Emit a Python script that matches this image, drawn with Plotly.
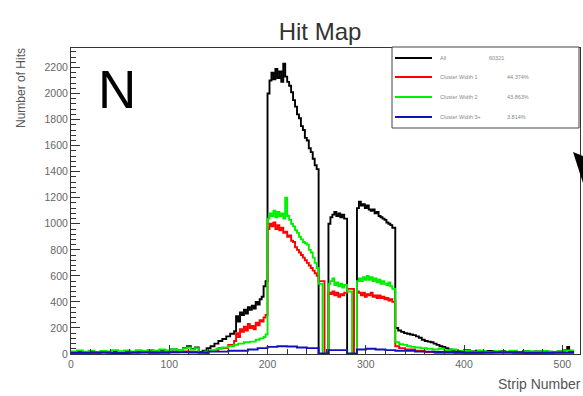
import plotly.graph_objects as go

# ---------------- data (strip bin start -> hits) ----------------
all_x = [0, 6, 12, 18, 24, 30, 36, 42, 48, 54, 60, 66, 72, 78, 84, 90, 96, 102, 108, 114, 118, 122, 126,
         130, 134, 138, 142, 146, 150, 154, 158, 162, 166, 168, 170, 172, 174, 176, 178, 180, 182, 184, 186,
         188, 190, 192, 194, 196, 198, 200, 202, 204, 206, 208, 210, 212, 214, 216, 218, 220, 222, 224, 226,
         228, 230, 232, 234, 236, 238, 240, 242, 244, 246, 248, 250, 252, 262, 264, 266, 268, 270, 272, 274,
         276, 278, 281, 291, 293, 295, 297, 299, 301, 303, 305, 307, 309, 311, 313, 315, 317, 319, 321, 323,
         325, 327, 330, 333, 336, 339, 342, 345, 348, 351, 354, 357, 360, 363, 366, 369, 372, 375, 378, 381,
         384, 388, 394, 400, 406, 412, 418, 424, 430, 436, 442, 448, 454, 460, 466, 472, 478, 484, 490, 496,
         502, 505, 507, 512]
all_y = [12, 20, 10, 16, 8, 18, 12, 22, 14, 20, 16, 24, 18, 26, 20, 30, 24, 34, 28, 45, 60, 38, 50,
         15, 25, 45, 60, 80, 100, 115, 135, 155, 175, 290, 250, 320, 300, 340, 310, 360, 340, 370, 350,
         400, 380, 420, 440, 520, 560, 2000, 2100, 2160, 2110, 2190, 2120, 2170, 2090, 2230, 2130, 2090, 2060, 2010, 1950,
         1900, 1840, 1810, 1750, 1720, 1660, 1640, 1580, 1550, 1500, 1450, 1420, 0, 1000, 1050, 1070, 1090, 1060, 1080, 1050,
         1070, 1040, 0, 1120, 1170, 1140, 1150, 1120, 1140, 1110, 1100, 1110, 1080, 1090, 1060, 1050, 1040, 1030, 1010, 1000,
         990, 970, 200, 180, 170, 160, 155, 150, 145, 135, 125, 110, 100, 95, 90, 80, 70, 60, 55, 45,
         35, 28, 22, 30, 20, 25, 18, 24, 16, 22, 15, 20, 14, 22, 16, 20, 12, 18, 14, 20,
         30, 55, 20, 20]

w1_x = [0, 10, 20, 30, 40, 50, 60, 70, 80, 90, 100, 110, 120, 130, 140, 150, 160, 166, 168, 170, 172, 174,
        176, 178, 180, 182, 184, 186, 188, 190, 192, 194, 196, 198, 200, 202, 204, 206, 208, 210, 212, 214,
        216, 218, 220, 222, 224, 226, 228, 230, 232, 234, 236, 238, 240, 242, 244, 246, 248, 250, 252, 258,
        262, 264, 266, 268, 270, 272, 274, 276, 278, 281, 288, 291, 293, 295, 297, 299, 301, 303, 305, 307,
        309, 311, 313, 315, 317, 319, 321, 323, 325, 327, 330, 334, 340, 350, 360, 370, 390, 420, 450, 480, 512]
w1_y = [8, 10, 6, 12, 8, 12, 10, 14, 12, 16, 14, 20, 18, 8, 25, 45, 70, 100, 160, 130, 190, 170,
        210, 180, 230, 200, 215, 190, 240, 220, 260, 250, 280, 300, 960, 1000, 980, 1010, 960, 990, 950, 970,
        930, 940, 900, 910, 870, 860, 820, 800, 780, 760, 740, 720, 700, 680, 660, 640, 620, 600, 560, 0,
        470, 460, 480, 450, 470, 440, 460, 450, 470, 500, 0, 480, 470, 450, 470, 440, 460, 450, 470, 440,
        450, 430, 450, 430, 440, 420, 430, 410, 420, 400, 60, 45, 35, 25, 15, 10, 8, 10, 7, 9, 9]

w2_x = [0, 6, 12, 18, 24, 30, 36, 42, 48, 54, 60, 66, 72, 78, 84, 90, 96, 102, 108, 114, 118, 122, 126,
        130, 136, 142, 148, 154, 160, 166, 170, 176, 182, 188, 192, 196, 198, 200, 202, 204, 206, 208, 210,
        212, 214, 216, 218, 220, 222, 224, 226, 228, 230, 232, 234, 236, 238, 240, 242, 244, 246, 248, 250,
        252, 256, 262, 264, 266, 268, 270, 272, 274, 276, 278, 281, 286, 291, 293, 295, 297, 299, 301, 303,
        305, 307, 309, 311, 313, 315, 317, 319, 321, 323, 325, 327, 330, 334, 338, 342, 346, 350, 356, 362,
        368, 374, 380, 386, 392, 398, 406, 414, 422, 430, 438, 446, 454, 462, 470, 478, 486, 494, 502, 512]
w2_y = [20, 28, 18, 25, 15, 24, 20, 30, 22, 28, 20, 30, 24, 32, 26, 34, 28, 36, 30, 42, 50, 35, 45,
        10, 20, 30, 40, 50, 60, 70, 80, 90, 95, 110, 120, 130, 150, 1040, 1080, 1060, 1100, 1050, 1090,
        1060, 1080, 1040, 1200, 1060, 1030, 1000, 980, 950, 930, 900, 880, 860, 850, 840, 800, 780, 740, 700, 660,
        540, 0, 540, 560, 580, 530, 550, 520, 540, 510, 530, 480, 0, 560, 580, 560, 590, 570, 600, 570,
        590, 560, 580, 550, 570, 540, 560, 540, 530, 550, 520, 500, 90, 75, 70, 60, 55, 50, 45, 40,
        35, 40, 30, 35, 20, 25, 18, 24, 16, 22, 18, 26, 15, 22, 18, 24, 16, 20, 28, 28]

w3_x = [0, 20, 40, 60, 80, 100, 120, 140, 160, 180, 190, 200, 210, 220, 230, 240, 252, 262, 281, 291,
        300, 310, 320, 330, 350, 370, 400, 430, 460, 490, 512]
w3_y = [10, 12, 8, 12, 10, 14, 12, 18, 25, 35, 45, 55, 60, 58, 50, 45, 5, 30, 5, 35,
        40, 35, 30, 25, 18, 15, 12, 14, 10, 12, 12]

series_names = ["All", "Cluster Width 1", "Cluster Width 2", "Cluster Width 3+"]
series_stats = ["60321", "44.374%", "43.863%", "3.814%"]
series_colors = ["#000000", "#ff0000", "#00ee00", "#1010c0"]
series_x = [all_x, w1_x, w2_x, w3_x]
series_y = [all_y, w1_y, w2_y, w3_y]

x_ticks = [0, 100, 200, 300, 400, 500]
y_ticks = list(range(0, 2201, 200))

# ---------------- layout geometry ----------------
W, H = 583, 396
L, R, T, B = 71, 3, 48, 42
PW, PH = W - L - R, H - T - B


def px(x):
    return (x - L) / PW


def py(y):
    return (H - B - y) / PH


fig = go.Figure()
for xs, ys, c, n in zip(series_x, series_y, series_colors, series_names):
    fig.add_trace(go.Scatter(x=xs, y=ys, mode="lines", line=dict(color=c, width=1.9, shape="hv"),
                             name=n, showlegend=False))

FONT = "Liberation Sans, Arial, sans-serif"
axis_common = dict(showline=True, linecolor="#333", linewidth=1, mirror=True, ticks="inside",
                   tickcolor="#333", showgrid=False, zeroline=False,
                   tickfont=dict(family=FONT, size=10.5, color="#666"))
fig.update_xaxes(range=[0, 518], tickvals=x_ticks, ticklen=9,
                 minor=dict(dtick=20, ticks="inside", ticklen=5, tickcolor="#333"), **axis_common)
fig.update_yaxes(range=[0, 2350], tickvals=y_ticks, ticklen=9,
                 minor=dict(dtick=40, ticks="inside", ticklen=5, tickcolor="#333"), **axis_common)

shapes = []
annotations = []
# legend box
shapes.append(dict(type="rect", xref="paper", yref="paper", x0=px(392), x1=px(579), y0=py(128), y1=py(47),
                   line=dict(color="#444", width=1), fillcolor="white", layer="above"))
rows_y = [58, 77, 97, 117]
stat_x = [487, 505, 505, 505]
for ry, c, n, s, sx in zip(rows_y, series_colors, series_names, series_stats, stat_x):
    shapes.append(dict(type="line", xref="paper", yref="paper", x0=px(395), x1=px(432), y0=py(ry), y1=py(ry),
                       line=dict(color=c, width=1.8), layer="above"))
    annotations.append(dict(xref="paper", yref="paper", x=px(438), y=py(ry), text=n, showarrow=False,
                            xanchor="left", yanchor="middle", font=dict(family=FONT, size=5.5, color="#888")))
    annotations.append(dict(xref="paper", yref="paper", x=px(sx), y=py(ry), text=s, showarrow=False,
                            xanchor="left", yanchor="middle", font=dict(family=FONT, size=5.5, color="#888")))

# arrowhead fragment at the right edge
shapes.append(dict(type="path", xref="paper", yref="paper",
                   path=f"M {px(573)},{py(152)} L {px(583)},{py(156)} L {px(583)},{py(183)} Z",
                   fillcolor="black", line=dict(color="black", width=0), layer="above"))

annotations.append(dict(xref="paper", yref="paper", x=px(117), y=py(90), text="N", showarrow=False,
                        xanchor="center", yanchor="middle", font=dict(family=FONT, size=53, color="black")))
annotations.append(dict(xref="paper", yref="paper", x=px(21), y=py(46), text="Number of Hits", showarrow=False,
                        textangle=-90, xanchor="center", yanchor="top",
                        font=dict(family=FONT, size=12, color="#555")))
annotations.append(dict(xref="paper", yref="paper", x=px(583), y=py(384), text="Strip Number", showarrow=False,
                        xanchor="right", yanchor="middle", font=dict(family=FONT, size=14, color="#555")))

fig.update_layout(
    width=W, height=H, margin=dict(l=L, r=R, t=T, b=B),
    paper_bgcolor="white", plot_bgcolor="white",
    title=dict(text="Hit Map", x=320 / W, xref="container", xanchor="center", y=1 - 32 / H, yanchor="middle",
               yref="container", font=dict(family=FONT, size=24, color="#333")),
    shapes=shapes, annotations=annotations, showlegend=False,
)

fig.write_html("out.html")
